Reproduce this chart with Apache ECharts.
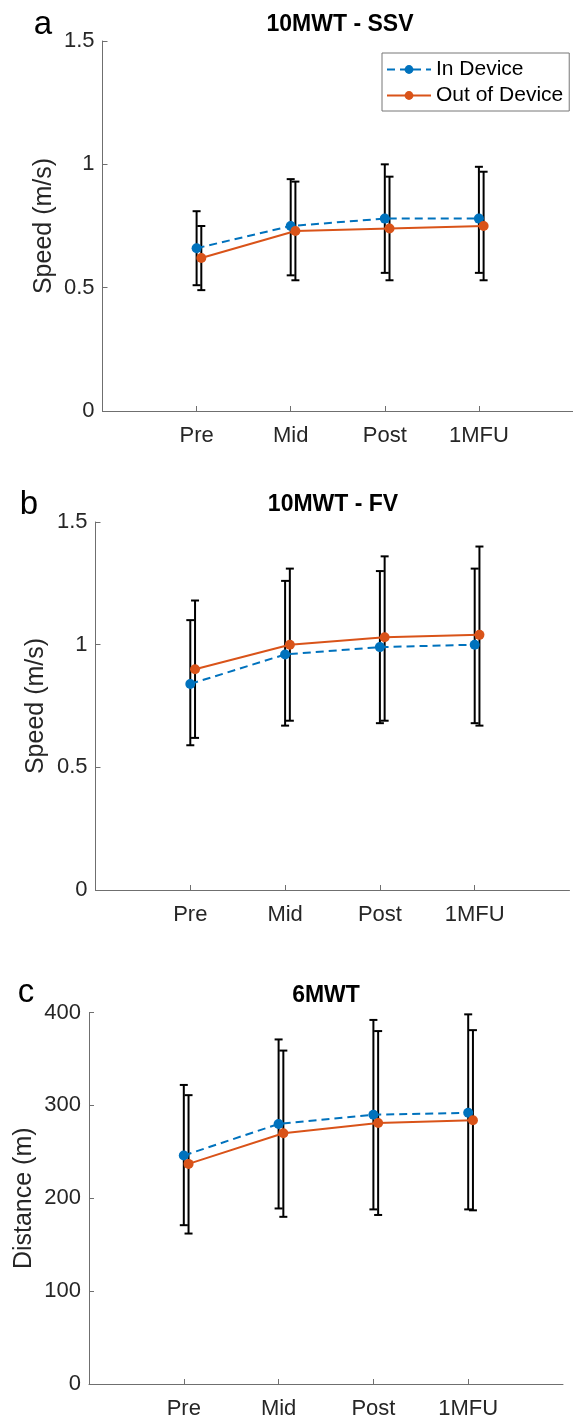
<!DOCTYPE html>
<html>
<head>
<meta charset="utf-8">
<script src="https://cdn.jsdelivr.net/npm/echarts@6/dist/echarts.min.js"></script>
<style>
  html, body { margin: 0; padding: 0; background: #fff; }
  #main { width: 573px; height: 1420px; }
</style>
</head>
<body>
<div id="main"></div>
<script>
const categories = ['Pre', 'Mid', 'Post', '1MFU'];
const seriesNames = ['In Device', 'Out of Device'];
const panelLetters = ['a', 'b', 'c'];
const panelTitles = ['10MWT - SSV', '10MWT - FV', '6MWT'];
const axisNames = ['Speed (m/s)', 'Speed (m/s)', 'Distance (m)'];

const speedTicks = [0, 0.5, 1, 1.5];
const distanceTicks = [0, 100, 200, 300, 400];

// a: 10MWT - SSV
const ssvIn = [0.66, 0.75, 0.78, 0.78];
const ssvInLow = [0.51, 0.55, 0.56, 0.56];
const ssvInHigh = [0.81, 0.94, 1.00, 0.99];
const ssvOut = [0.62, 0.73, 0.74, 0.75];
const ssvOutLow = [0.49, 0.53, 0.53, 0.53];
const ssvOutHigh = [0.75, 0.93, 0.95, 0.97];

// b: 10MWT - FV
const fvIn = [0.84, 0.96, 0.99, 1.00];
const fvInLow = [0.59, 0.67, 0.68, 0.68];
const fvInHigh = [1.10, 1.26, 1.30, 1.31];
const fvOut = [0.90, 1.00, 1.03, 1.04];
const fvOutLow = [0.62, 0.69, 0.69, 0.67];
const fvOutHigh = [1.18, 1.31, 1.36, 1.40];

// c: 6MWT
const mwtIn = [246, 280, 290, 292];
const mwtInLow = [171, 189, 188, 188];
const mwtInHigh = [322, 371, 392, 398];
const mwtOut = [237, 270, 281, 284];
const mwtOutLow = [162, 180, 182, 187];
const mwtOutHigh = [311, 359, 380, 381];

const panels = [
  { ticks: speedTicks, inVals: ssvIn, inLow: ssvInLow, inHigh: ssvInHigh, outVals: ssvOut, outLow: ssvOutLow, outHigh: ssvOutHigh },
  { ticks: speedTicks, inVals: fvIn, inLow: fvInLow, inHigh: fvInHigh, outVals: fvOut, outLow: fvOutLow, outHigh: fvOutHigh },
  { ticks: distanceTicks, inVals: mwtIn, inLow: mwtInLow, inHigh: mwtInHigh, outVals: mwtOut, outLow: mwtOutLow, outHigh: mwtOutHigh }
];

const FONT = '"Liberation Sans", Arial, Helvetica, sans-serif';
const BLUE = '#0072BD';
const ORANGE = '#D95319';
const OUT_SHIFT = 0.05; // matlab nudges the second series right a bit

const grids = [
  { left: 102.5, top: 41, width: 474, height: 370 },
  { left: 95.5, top: 522, width: 474, height: 368 },
  { left: 89, top: 1012.5, width: 474, height: 371.5 }
];
const nameGaps = [46, 47, 52];
const letterPos = [[43, 41], [29, 521], [26, 1009]];
const titlePos = [[340, 36], [333, 516], [326, 1007]];

function errorBar(params, api) {
  const x = api.value(0);
  const lo = api.coord([x, api.value(1)]);
  const hi = api.coord([x, api.value(2)]);
  const w = 4;
  const style = { stroke: '#000', lineWidth: 2 };
  return {
    type: 'group',
    children: [
      { type: 'line', shape: { x1: lo[0], y1: lo[1], x2: hi[0], y2: hi[1] }, style: style },
      { type: 'line', shape: { x1: lo[0] - w, y1: lo[1], x2: lo[0] + w, y2: lo[1] }, style: style },
      { type: 'line', shape: { x1: hi[0] - w, y1: hi[1], x2: hi[0] + w, y2: hi[1] }, style: style }
    ]
  };
}

const xAxes = [], yAxes = [], series = [], graphics = [];

panels.forEach(function (p, k) {
  const t = p.ticks;
  xAxes.push({
    type: 'value', gridIndex: k, min: 0, max: 5, interval: 1,
    axisLine: { lineStyle: { color: '#6f6f6f', width: 1 } },
    axisTick: { inside: true, length: 5, customValues: [1, 2, 3, 4], lineStyle: { color: '#6f6f6f' } },
    axisLabel: {
      customValues: [1, 2, 3, 4], margin: 14, color: '#262626', fontSize: 22, fontFamily: FONT,
      formatter: function (v) { return categories[Math.round(v) - 1] || ''; }
    },
    splitLine: { show: false }
  });
  yAxes.push({
    type: 'value', gridIndex: k, min: t[0], max: t[t.length - 1], interval: t[1] - t[0],
    name: axisNames[k], nameLocation: 'middle', nameGap: nameGaps[k], nameMoveOverlap: false,
    nameTextStyle: { color: '#262626', fontSize: 25, fontFamily: FONT },
    axisLine: { show: true, lineStyle: { color: '#6f6f6f', width: 1 } },
    axisTick: { show: true, inside: true, length: 5, lineStyle: { color: '#6f6f6f' } },
    axisLabel: { margin: 8, color: '#262626', fontSize: 22, fontFamily: FONT },
    splitLine: { show: false }
  });

  const inData = p.inVals.map(function (v, i) { return [i + 1, v]; });
  const outData = p.outVals.map(function (v, i) { return [i + 1 + OUT_SHIFT, v]; });
  const inBars = p.inVals.map(function (v, i) { return [i + 1, p.inLow[i], p.inHigh[i]]; });
  const outBars = p.outVals.map(function (v, i) { return [i + 1 + OUT_SHIFT, p.outLow[i], p.outHigh[i]]; });

  series.push(
    { type: 'custom', name: 'err-in-' + k, xAxisIndex: k, yAxisIndex: k, renderItem: errorBar,
      encode: { x: 0, y: [1, 2] }, data: inBars, z: 1, silent: true },
    { type: 'custom', name: 'err-out-' + k, xAxisIndex: k, yAxisIndex: k, renderItem: errorBar,
      encode: { x: 0, y: [1, 2] }, data: outBars, z: 1, silent: true },
    { type: 'line', name: seriesNames[0], xAxisIndex: k, yAxisIndex: k, data: inData, z: 3,
      symbol: 'circle', symbolSize: 10, color: BLUE,
      lineStyle: { color: BLUE, width: 2, type: [8, 5] }, itemStyle: { color: BLUE } },
    { type: 'line', name: seriesNames[1], xAxisIndex: k, yAxisIndex: k, data: outData, z: 4,
      symbol: 'circle', symbolSize: 10, color: ORANGE,
      lineStyle: { color: ORANGE, width: 2 }, itemStyle: { color: ORANGE } }
  );

  graphics.push(
    { type: 'text', x: letterPos[k][0], y: letterPos[k][1],
      style: { text: panelLetters[k], font: '33px ' + FONT, fill: '#000', textAlign: 'center', textVerticalAlign: 'bottom' } },
    { type: 'text', x: titlePos[k][0], y: titlePos[k][1],
      style: { text: panelTitles[k], font: 'bold 23px ' + FONT, fill: '#000', textAlign: 'center', textVerticalAlign: 'bottom' } }
  );
});

const chart = echarts.init(document.getElementById('main'), null, { renderer: 'canvas' });

chart.setOption({
  animation: false,
  backgroundColor: '#fff',
  grid: grids,
  xAxis: xAxes,
  yAxis: yAxes,
  legend: {
    data: seriesNames,
    orient: 'vertical',
    left: 382, top: 53,
    padding: [6, 6, 5, 4],
    itemGap: 5,
    itemWidth: 44, itemHeight: 11,
    borderColor: '#777', borderWidth: 1, backgroundColor: '#fff',
    textStyle: { color: '#000', fontSize: 21, fontFamily: FONT }
  },
  graphic: graphics,
  series: series
});
</script>
</body>
</html>
